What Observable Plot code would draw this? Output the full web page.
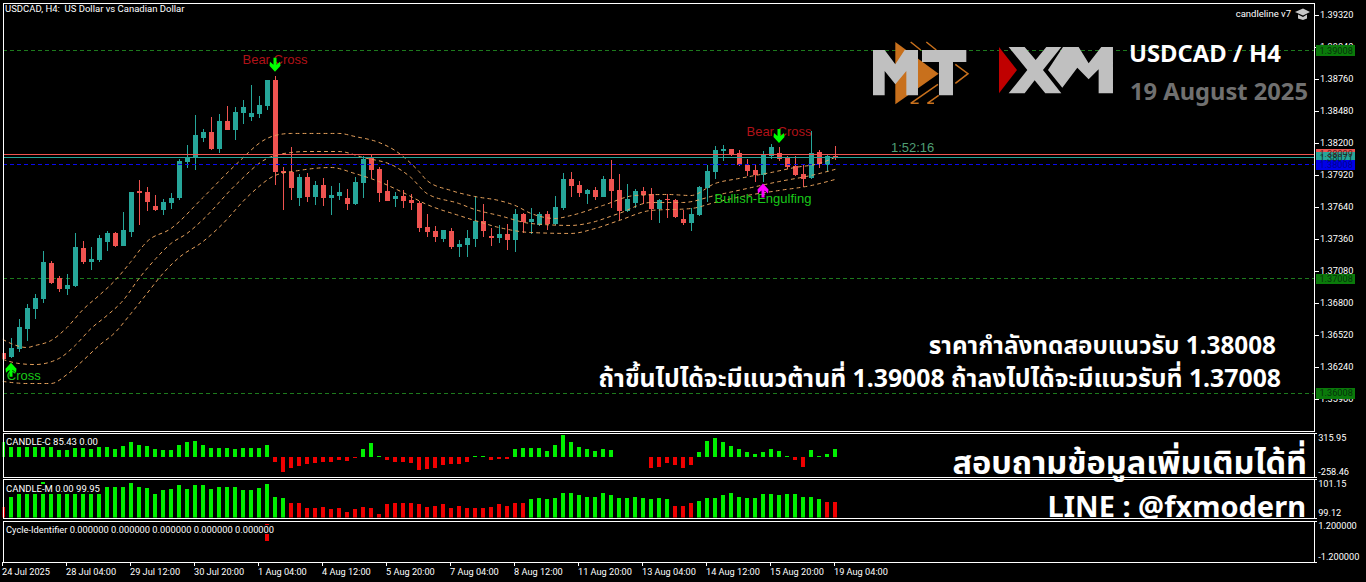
<!DOCTYPE html>
<html><head><meta charset="utf-8">
<script src="https://cdn.jsdelivr.net/npm/d3@7"></script>
<script src="https://cdn.jsdelivr.net/npm/@observablehq/plot@0.6"></script>
<style>
html,body{margin:0;padding:0;background:#000;overflow:hidden}
#root{position:relative;width:1366px;height:582px;background:#000;overflow:hidden}
#root>.p{position:absolute;left:0}
#root svg{display:block}
.t{position:absolute;white-space:pre;line-height:1}
</style></head><body><div id="root"></div>
<script>
const opens=[1.36363,1.36328,1.36397,1.36572,1.36747,1.36835,1.37150,1.37019,1.36922,1.36948,
1.37281,1.37158,1.37176,1.37333,1.37413,1.37298,1.37421,1.37780,1.37771,1.37649,
1.37614,1.37675,1.37719,1.38034,1.38078,1.38244,1.38296,1.38148,1.38393,1.38314,
1.38463,1.38428,1.38454,1.38524,1.38751,1.37955,1.37946,1.37719,1.37902,1.37727,
1.37832,1.37719,1.37736,1.37719,1.37666,1.37850,1.38069,1.37973,1.37780,1.37710,
1.37736,1.37701,1.37675,1.37465,1.37430,1.37360,1.37430,1.37290,1.37307,1.37360,
1.37517,1.37386,1.37369,1.37404,1.37351,1.37579,1.37509,1.37483,1.37579,1.37491,
1.37631,1.37885,1.37832,1.37754,1.37789,1.37727,1.37885,1.37789,1.37605,1.37675,
1.37780,1.37754,1.37622,1.37706,1.37701,1.37535,1.37500,1.37570,1.37806,1.37946,
1.38130,1.38148,1.38113,1.38008,1.37964,1.37920,1.38086,1.38113,1.38069,1.37999,
1.37929,1.37894,1.38121,1.38008,1.38086];
const highs=[1.36380,1.36494,1.36660,1.36791,1.36879,1.37255,1.37167,1.37036,1.37054,1.37413,
1.37342,1.37290,1.37395,1.37430,1.37421,1.37596,1.37771,1.37876,1.37815,1.37745,
1.37710,1.37762,1.38060,1.38182,1.38445,1.38323,1.38428,1.38454,1.38524,1.38515,
1.38576,1.38708,1.38611,1.38751,1.38786,1.37990,1.38165,1.37929,1.37937,1.37867,
1.37894,1.37824,1.37850,1.37798,1.37902,1.38086,1.38095,1.37990,1.37876,1.37771,
1.37789,1.37754,1.37692,1.37579,1.37474,1.37439,1.37456,1.37351,1.37439,1.37736,
1.37666,1.37456,1.37483,1.37491,1.37622,1.37588,1.37631,1.37596,1.37605,1.37736,
1.37937,1.37946,1.37867,1.37798,1.37815,1.37911,1.38051,1.37929,1.37841,1.37798,
1.37815,1.37806,1.37710,1.37754,1.37710,1.37614,1.37631,1.37824,1.38008,1.38174,
1.38182,1.38148,1.38139,1.38060,1.38008,1.38130,1.38191,1.38165,1.38086,1.38086,
1.38008,1.38305,1.38139,1.38104,1.38174];
const lows=[1.36292,1.36319,1.36371,1.36467,1.36660,1.36800,1.36966,1.36896,1.36870,1.36940,
1.37141,1.37089,1.37158,1.37255,1.37290,1.37298,1.37377,1.37483,1.37605,1.37605,
1.37570,1.37622,1.37701,1.37981,1.37964,1.38209,1.38139,1.38113,1.38314,1.38226,
1.38366,1.38393,1.38419,1.38489,1.37832,1.37614,1.37701,1.37649,1.37684,1.37658,
1.37649,1.37570,1.37701,1.37614,1.37658,1.37719,1.37894,1.37684,1.37692,1.37640,
1.37631,1.37614,1.37421,1.37377,1.37333,1.37333,1.37272,1.37202,1.37202,1.37290,
1.37377,1.37298,1.37325,1.37264,1.37246,1.37413,1.37404,1.37474,1.37439,1.37483,
1.37614,1.37727,1.37727,1.37666,1.37701,1.37727,1.37631,1.37526,1.37596,1.37631,
1.37666,1.37526,1.37500,1.37544,1.37544,1.37483,1.37430,1.37561,1.37684,1.37885,
1.38042,1.38086,1.37999,1.37911,1.37859,1.37859,1.38060,1.38042,1.37973,1.37911,
1.37815,1.37885,1.37981,1.37946,1.38051];
const closes=[1.36310,1.36406,1.36590,1.36756,1.36844,1.37158,1.36975,1.36922,1.36957,1.37290,
1.37158,1.37185,1.37369,1.37413,1.37298,1.37439,1.37771,1.37762,1.37684,1.37614,
1.37684,1.37719,1.38042,1.38078,1.38270,1.38296,1.38148,1.38393,1.38314,1.38471,
1.38515,1.38463,1.38533,1.38751,1.37946,1.37937,1.37806,1.37902,1.37727,1.37832,
1.37719,1.37745,1.37771,1.37666,1.37859,1.38060,1.37964,1.37762,1.37692,1.37736,
1.37692,1.37675,1.37456,1.37421,1.37377,1.37439,1.37290,1.37316,1.37369,1.37517,
1.37430,1.37369,1.37404,1.37351,1.37579,1.37509,1.37535,1.37579,1.37491,1.37640,
1.37885,1.37824,1.37762,1.37789,1.37727,1.37885,1.37780,1.37605,1.37710,1.37780,
1.37745,1.37622,1.37701,1.37697,1.37552,1.37500,1.37579,1.37815,1.37955,1.38139,
1.38148,1.38095,1.38008,1.37955,1.37920,1.38095,1.38165,1.38060,1.37990,1.37920,
1.37885,1.38113,1.38016,1.38086,1.38078];

const upperBars=[0,1,3,4,6,8,10,12,14,16,18,21,25,29,33,34,36,42,44,47,49,51,52,53,56,59,62,64,66,69,71,75,79,83,86,89,92,96,99,102,104];
const upperBand=[1.36485,1.36450,1.36415,1.36432,1.36476,1.36590,1.36747,1.36870,1.37001,1.37167,1.37342,1.37456,1.37727,1.38008,1.38244,1.38270,1.38288,1.38288,1.38261,1.38209,1.38139,1.38025,1.37955,1.37876,1.37789,1.37736,1.37701,1.37658,1.37588,1.37544,1.37570,1.37658,1.37745,1.37754,1.37745,1.37850,1.37894,1.37946,1.37990,1.38025,1.38078];
const middleBars=[0,2,4,7,9,11,13,15,17,19,21,23,25,29,33,36,38,42,45,49,51,53,57,59,62,66,71,73,77,81,85,89,93,97,101,104];
const middleBand=[1.36310,1.36275,1.36266,1.36319,1.36432,1.36581,1.36695,1.36826,1.37019,1.37185,1.37325,1.37413,1.37535,1.37832,1.38069,1.38121,1.38130,1.38130,1.38078,1.37999,1.37902,1.37762,1.37675,1.37622,1.37570,1.37500,1.37483,1.37500,1.37588,1.37684,1.37684,1.37745,1.37806,1.37867,1.37920,1.37973];
const lowerBars=[0,3,6,8,10,12,14,16,18,20,22,25,27,31,34,37,41,44,47,50,53,57,59,62,66,71,74,77,81,86,89,93,97,101,104];
const lowerBand=[1.36118,1.36100,1.36100,1.36179,1.36301,1.36432,1.36546,1.36713,1.36888,1.37063,1.37202,1.37342,1.37465,1.37762,1.37920,1.37964,1.37990,1.37937,1.37867,1.37771,1.37666,1.37570,1.37526,1.37465,1.37421,1.37413,1.37456,1.37526,1.37614,1.37631,1.37684,1.37745,1.37789,1.37832,1.37885];

const candleC=[187,135,135,135,135,135,135,91,83,113,109,96,122,122,96,135,187,157,135,96,83,83,148,187,200,148,109,109,109,100,109,109,109,148,
-74,-204,-152,-126,-100,-87,-74,-74,-48,-61,-22,96,174,9,-48,-74,-74,-87,-178,-165,-152,
-113,-100,-100,-74,4,4,-48,-26,-35,96,109,109,109,70,148,278,187,122,96,70,96,83,-9,-9,-9,-9,-152,-139,-87,-113,-152,-113,57,200,239,187,135,96,57,30,57,96,70,13,-48,-139,83,13,30,96];
const candleM=[99.69,100.21,100.37,100.37,100.37,100.99,100.37,100.37,100.37,100.37,100.37,100.37,100.37,100.73,100.73,100.73,100.89,100.73,100.68,100.32,100.53,100.58,100.79,100.58,100.79,100.79,100.58,100.73,100.73,100.73,100.53,100.53,100.63,100.84,100.21,100.16,
99.85,99.85,99.59,99.64,99.69,99.54,99.59,99.43,99.54,99.69,99.59,99.28,99.80,99.85,99.90,99.85,99.80,99.69,99.74,99.80,99.64,99.74,99.64,99.59,99.64,99.69,99.80,99.74,99.90,99.90,
100.06,100.11,100.06,100.16,100.42,100.37,100.27,100.21,100.21,100.37,100.27,100.16,100.11,100.21,100.16,100.06,100.16,100.06,
99.74,99.74,99.85,100.00,100.16,100.16,100.27,100.37,100.21,100.16,100.11,100.32,100.32,100.27,100.32,100.32,100.21,100.21,100.06,99.95,99.95];
const candleMDown=[0,36,37,38,39,40,41,42,43,44,45,46,47,48,49,50,51,52,53,54,55,56,57,58,59,60,61,62,63,64,65,84,85,86,103,104];
const cycleBars=[33];
const cycleValues=[0.98];

const priceTicks=[1.3932,1.3904,1.3876,1.3848,1.3820,1.3792,1.3764,1.3736,1.3708,1.3680,1.3652,1.3624,1.3596];
const supportLevels=[1.39008,1.37008,1.36008];
const pivotLevel=1.38008, askPrice=1.38099, bidPrice=1.38071;
const timeBars=[0,8,16,24,32,40,48,56,64,72,80,88,96,104];
const timeLabels=["24 Jul 2025","28 Jul 04:00","29 Jul 12:00","30 Jul 20:00","1 Aug 04:00","4 Aug 12:00","5 Aug 20:00","7 Aug 04:00","8 Aug 12:00","11 Aug 20:00","13 Aug 04:00","14 Aug 12:00","15 Aug 20:00","19 Aug 04:00"];
const signals=[
 {text:"Bear Cross",i:34,p:1.38935,fill:"#b01218"},
 {text:"Bear Cross",i:97,p:1.38301,fill:"#b01218"},
 {text:"Cross",i:2.6,p:1.36171,fill:"#19c819"},
 {text:"Bullish-Engulfing",i:95,p:1.37719,fill:"#19c819"},
 {text:"1:52:16",i:113.7,p:1.38159,fill:"#4f9e74"}];
const arrows=[
 {i:34,p:1.38890,dir:"down",fill:"#00ff00"},
 {i:97,p:1.38266,dir:"down",fill:"#00ff00"},
 {i:1,p:1.36220,dir:"up",fill:"#00ff00"},
 {i:95,p:1.37788,dir:"up",fill:"#ff00ff"}];
const priceTags=[
 {p:1.39008,fill:"#0a7a0a",text:"#06300a"},
 {p:1.37008,fill:"#0a7a0a",text:"#06300a"},
 {p:1.36008,fill:"#0a7a0a",text:"#06300a"},
 {p:1.38099,fill:"#ef5350",text:"#5a1a1a"},
 {p:1.38071,fill:"#26a69a",text:"#06302c"},
 {p:1.38008,fill:"#0000e8",text:"#000090"}];
const notes=[
 {t:"USDCAD, H4:  US Dollar vs Canadian Dollar",x:5,y:4,s:9.5,c:"#fff",f:"Roboto"},
 {t:"candleline v7",r:75,y:9,s:9.5,c:"#fff",f:"Roboto"},
 {t:"CANDLE-C 85.43 0.00",x:5,y:437,s:9.5,c:"#fff",f:"Roboto",bg:1},
 {t:"CANDLE-M 0.00 99.95",x:5,y:484,s:9.5,c:"#fff",f:"Roboto",bg:1},
 {t:"Cycle-Identifier 0.000000 0.000000 0.000000 0.000000 0.000000",x:5,y:525,s:9.3,c:"#fff",f:"Roboto",bg:1},
 {t:"USDCAD / H4",x:1129,y:42,s:23.8,w:700,c:"#fff"},
 {t:"19 August 2025",x:1130,y:80,s:23.7,w:700,c:"#707070"},
 {t:"ราคากำลังทดสอบแนวรับ 1.38008",r:90,y:333,s:24.3,w:700,c:"#fff"},
 {t:"ถ้าขึ้นไปได้จะมีแนวต้านที่ 1.39008 ถ้าลงไปได้จะมีแนวรับที่ 1.37008",r:85,y:365,s:24.8,w:700,c:"#fff"},
 {t:"สอบถามข้อมูลเพิ่มเติมได้ที่",r:59,y:446,s:32.5,w:700,c:"#fff"},
 {t:"LINE : @fxmodern",r:60,y:491,s:29,w:700,c:"#fff"}];

const n=opens.length;
const bull="#26a69a", bear="#ef5350";
const bars=d3.range(n).map(i=>({i,o:opens[i],h:highs[i],l:lows[i],c:closes[i],col:closes[i]>=opens[i]?bull:bear}));
const band=(xs,ys)=>xs.map((i,k)=>({i,p:ys[k]}));
const xScale={domain:[0,163.875],axis:null};
const base={width:1366,marginLeft:2.5,marginRight:52.5,x:xScale,
  style:{background:"transparent",color:"#fff",fontFamily:"Roboto",fontSize:"9.2px"}};
const crisp={shapeRendering:"crispEdges"};
const tagX=164.2, tagX2=169.1, labelX=164.55;
const arrowPts=[[-1.5,-7],[1.5,-7],[1.5,0],[5,-3],[5.5,1],[0,7],[-5.5,1],[-5,-3],[-1.5,0]];
const mkSym=sign=>({draw(c){arrowPts.forEach(([a,b],k)=>k?c.lineTo(a,b*sign):c.moveTo(a,b*sign));c.closePath();}});

const main=Plot.plot({...base,height:432,marginTop:2.5,marginBottom:1.5,
 y:{domain:[1.356844,1.394294],axis:null},
 marks:[
  Plot.axisY({anchor:"right",ticks:priceTicks,tickFormat:".5f",tickSize:4,tickPadding:2,label:null,fontSize:9.2,...crisp}),
  Plot.ruleY(supportLevels,{stroke:"#1d7a1d",strokeDasharray:"4,3",dy:-1,...crisp}),
  Plot.ruleX(bars,{x:"i",y1:"l",y2:"h",stroke:"col",strokeWidth:1,clip:true,...crisp}),
  Plot.ruleX(bars,{x:"i",y1:"o",y2:"c",stroke:"col",strokeWidth:5,clip:true,...crisp}),
  ...[[upperBars,upperBand],[middleBars,middleBand],[lowerBars,lowerBand]].map(([a,b])=>
    Plot.line(band(a,b),{x:"i",y:"p",stroke:"#e6a15c",strokeWidth:1,strokeDasharray:"3,4",curve:"monotone-x",clip:true})),
  Plot.ruleY([askPrice],{stroke:bear,dy:-1,...crisp}),
  Plot.ruleY([bidPrice],{stroke:bull,dy:-1,...crisp}),
  Plot.ruleY([pivotLevel],{stroke:"#0a0aee",strokeDasharray:"4,3",dy:-1,...crisp}),
  Plot.text(signals,{x:"i",y:"p",text:"text",fill:"fill",fontSize:13,fontFamily:"Liberation Sans"}),
  ...arrows.map(a=>Plot.dot([a],{x:"i",y:"p",fill:"fill",stroke:"none",symbol:mkSym(a.dir==="down"?1:-1)})),
  Plot.ruleY(priceTags,{y:"p",x1:()=>tagX,x2:()=>tagX2,stroke:"fill",strokeWidth:10.5,dy:-.5,...crisp}),
  Plot.text(priceTags,{y:"p",x:()=>labelX,text:d=>d.p.toFixed(5),fill:"text",textAnchor:"start",fontSize:9.2,dy:-.5}),
  Plot.frame({stroke:"#fff",...crisp})
 ]});

const pane=(top,h,dom,marks,fmt)=>{
 const el=Plot.plot({...base,height:h,marginTop:.5,marginBottom:1.5,y:{domain:dom,axis:null},
  marks:[...marks,
   Plot.ruleY(dom,{x1:()=>163.875,x2:()=>164.3,stroke:"#fff",...crisp}),
   Plot.text([dom[1]],{y:d=>d,x:()=>labelX-.15,dy:5.5,text:d=>fmt(d),textAnchor:"start",fill:"#fff",fontSize:9.2}),
   Plot.text([dom[0]],{y:d=>d,x:()=>labelX-.15,dy:-4.5,text:d=>fmt(d),textAnchor:"start",fill:"#fff",fontSize:9.2}),
   Plot.frame({stroke:"#fff",...crisp})]});
 return [el,top];
};
const hist=(rows,y1v)=>[Plot.ruleX(rows,{x:"i",y1:()=>y1v,y2:"v",stroke:"col",strokeWidth:4,dx:-.5,clip:true,...crisp})];
const cRows=candleC.map((v,i)=>({i,v,col:v>=0?"#00f000":"#f00000"}));
const downSet=new Set(candleMDown);
const mRows=candleM.map((v,i)=>({i,v,col:downSet.has(i)?"#f00000":"#00f000"}));
const yRows=cycleBars.map((i,k)=>({i,v:cycleValues[k],col:"#f00000"}));

const paneC=pane(432,46,[-258.46,315.95],hist(cRows,0),d=>d.toFixed(2));
const paneM=pane(478,41,[99.12,101.15],hist(mRows,99.12),d=>d.toFixed(2));
const paneY=pane(520,43,[-1.2,1.2],hist(yRows,0),d=>d.toFixed(6));

const axis=Plot.plot({...base,height:20,marginTop:0,marginBottom:20,
 marks:[Plot.axisX({anchor:"bottom",ticks:timeBars,tickFormat:d=>timeLabels[timeBars.indexOf(d)],tickSize:4,tickPadding:2,textAnchor:"start",label:null,fontSize:9.2,dx:-1,...crisp})]});

const root=document.getElementById("root");
[[main,0],paneC,paneM,paneY,[axis,562]].forEach(([el,top])=>{
 const w=document.createElement("div");w.className="p";w.style.top=top+"px";w.appendChild(el);root.appendChild(w);
});

const logo=document.createElementNS("http://www.w3.org/2000/svg","svg");
logo.setAttribute("width",1366);logo.setAttribute("height",582);
logo.setAttribute("style","position:absolute;left:0;top:0;pointer-events:none");
logo.innerHTML=`
<g transform="translate(868,36) scale(.3333)">
 <polygon fill="#c8701c" points="82,18 212,113 82,205"/>
 <g fill="none" stroke="#c8701c" stroke-width="4.5">
  <path d="M128,18 L158,42 M175,18 L205,42 M262,85 L300,113 L262,142 M128,202 L210,145 M178,202 L212,178 M128,202 L152,202 M178,202 L198,202"/>
 </g>
 <g fill="#c0c0c0">
  <polygon points="15,42 50,42 82,85 110,42 150,42 150,178 115,178 115,105 82,145 50,105 50,178 15,178"/>
  <polygon points="162,42 295,42 295,78 255,78 255,178 213,178 213,78 162,78"/>
  <polygon points="422,33 470,33 503,72 535,33 580,33 525,102 580,172 532,172 500,133 470,172 422,172 478,102"/>
  <polygon points="585,33 632,33 662,82 700,33 735,33 735,172 692,172 692,100 662,130 628,95 583,155 540,102"/>
 </g>
 <polygon fill="#c00000" points="393,33 447,102 393,172"/>
</g>
<g fill="#c8c8c8">
 <polygon points="1295,12 1303,8.5 1310,12 1303,15.5"/>
 <polygon points="1298,14.5 1303,17 1307,14.5 1307,18.5 1303,20 1298,18.5"/>
</g>`;
root.appendChild(logo);

notes.forEach(d=>{
 const e=document.createElement("div");e.className="t";e.textContent=d.t;
 e.style.cssText+=`top:${d.y}px;font-size:${d.s}px;color:${d.c};font-weight:${d.w||400};font-family:${d.f||"'Noto Sans','Noto Sans Thai',Tahoma,sans-serif"};`
  +(d.r!=null?`right:${d.r}px;`:`left:${d.x}px;`)+(d.bg?"background:#000;padding:0 1px;":"");
 root.appendChild(e);
});
</script></body></html>
